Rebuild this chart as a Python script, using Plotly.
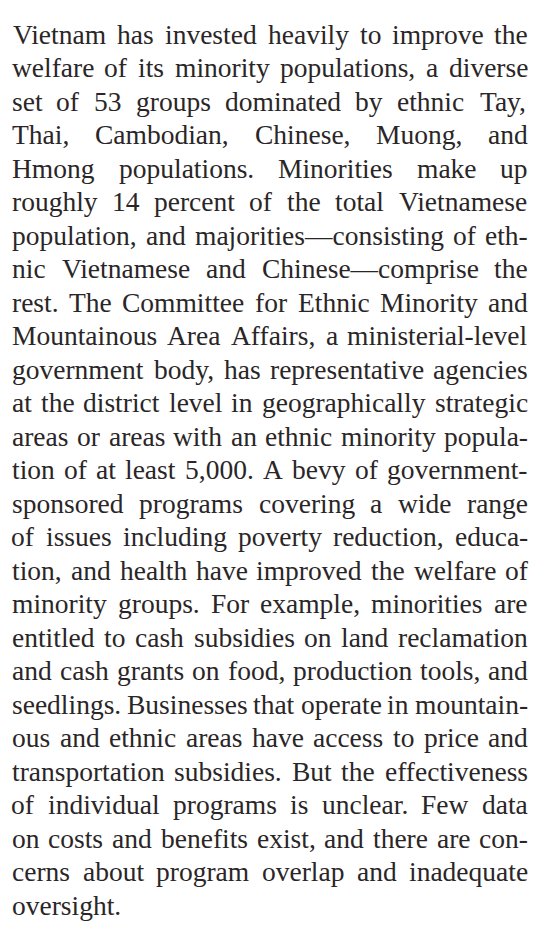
import plotly.graph_objects as go

# ---- content (one entry per typeset line) ----
LINES = [
    "Vietnam has invested heavily to improve the",
    "welfare of its minority populations, a diverse",
    "set of 53 groups dominated by ethnic Tay,",
    "Thai, Cambodian, Chinese, Muong, and",
    "Hmong populations. Minorities make up",
    "roughly 14 percent of the total Vietnamese",
    "population, and majorities\u2014consisting of eth-",
    "nic Vietnamese and Chinese\u2014comprise the",
    "rest. The Committee for Ethnic Minority and",
    "Mountainous Area Affairs, a ministerial-level",
    "government body, has representative agencies",
    "at the district level in geographically strategic",
    "areas or areas with an ethnic minority popula-",
    "tion of at least 5,000. A bevy of government-",
    "sponsored programs covering a wide range",
    "of issues including poverty reduction, educa-",
    "tion, and health have improved the welfare of",
    "minority groups. For example, minorities are",
    "entitled to cash subsidies on land reclamation",
    "and cash grants on food, production tools, and",
    "seedlings. Businesses that operate in mountain-",
    "ous and ethnic areas have access to price and",
    "transportation subsidies. But the effectiveness",
    "of individual programs is unclear. Few data",
    "on costs and benefits exist, and there are con-",
    "cerns about program overlap and inadequate",
    "oversight.",
]

# ---- style / layout ----
W, H = 535, 937
FONT = "Liberation Serif, Times New Roman, serif"
SIZE = 27.5
COLOR = "#2a2627"
LEFT, RIGHT = 12, 528
FIRST_BASELINE = 43.5
LEADING = 33.5

# Times-Roman advance widths (per 1000 em) – Liberation Serif is metric compatible
_W = {
    " ": 250, ",": 250, ".": 250, "-": 333, "\u2014": 1000,
    "A": 722, "B": 667, "C": 667, "D": 722, "E": 611, "F": 556, "G": 722,
    "H": 722, "I": 333, "J": 389, "K": 722, "L": 611, "M": 889, "N": 722,
    "O": 722, "P": 556, "Q": 722, "R": 667, "S": 556, "T": 611, "U": 722,
    "V": 722, "W": 944, "X": 722, "Y": 722, "Z": 611,
    "a": 444, "b": 500, "c": 444, "d": 500, "e": 444, "f": 333, "g": 500,
    "h": 500, "i": 278, "j": 278, "k": 500, "l": 278, "m": 778, "n": 500,
    "o": 500, "p": 500, "q": 500, "r": 333, "s": 389, "t": 278, "u": 500,
    "v": 500, "w": 722, "x": 500, "y": 500, "z": 444,
}


def text_width(s):
    return sum(_W.get(c, 500) for c in s) * SIZE / 1000.0


annotations = []
for i, line in enumerate(LINES):
    baseline = FIRST_BASELINE + i * LEADING
    yc = baseline - 0.3375 * SIZE
    words = line.split(" ")
    widths = [text_width(w) for w in words]
    last = i == len(LINES) - 1
    if last or len(words) == 1:
        gap = text_width(" ")
    else:
        gap = (RIGHT - LEFT - sum(widths)) / (len(words) - 1)
    x = LEFT
    for w, wd in zip(words, widths):
        annotations.append(dict(
            x=x + wd / 2, y=yc, xref="x", yref="y", text=w,
            showarrow=False, xanchor="center", yanchor="middle",
            borderpad=0, font=dict(family=FONT, size=SIZE, color=COLOR),
        ))
        x += wd + gap

fig = go.Figure()
fig.add_trace(go.Scatter(x=[0, W], y=[0, H], mode="markers",
                         marker=dict(opacity=0), hoverinfo="skip", showlegend=False))
fig.update_layout(
    width=W, height=H, margin=dict(l=0, r=0, t=0, b=0),
    paper_bgcolor="white", plot_bgcolor="white",
    xaxis=dict(range=[0, W], visible=False, fixedrange=True),
    yaxis=dict(range=[H, 0], visible=False, fixedrange=True),
    annotations=annotations, showlegend=False,
)
fig.write_html(
    "out.html",
    config={"displayModeBar": False},
    post_script="document.body.style.margin='0';",
)
